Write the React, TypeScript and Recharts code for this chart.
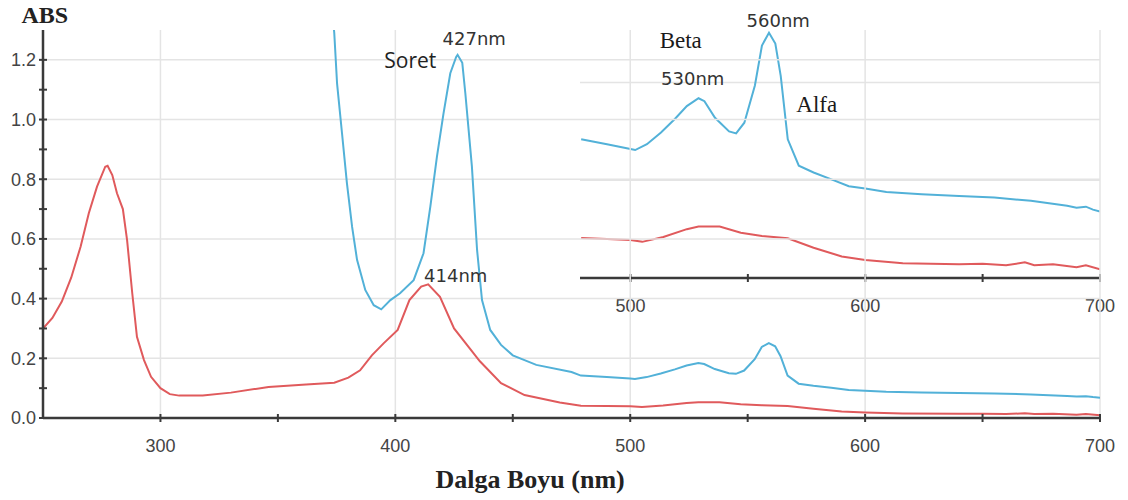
import React from 'react';
import { LineChart, Line, XAxis, YAxis, CartesianGrid, ReferenceDot } from 'recharts';

// wavelength (nm) / absorbance pairs
const redNm = [250, 254, 258, 262, 266, 269.5, 273, 276.5, 277.5, 279.5, 281.5, 284, 285.8, 288, 290, 293, 296, 300, 304, 308, 318, 330, 346, 362, 374, 380, 385, 390, 395, 401, 406, 411, 414, 419, 425, 436, 445, 455, 470, 479, 490, 500, 505, 514, 524, 529, 538, 547, 556, 567, 578, 590, 600, 616, 640, 650, 660, 668, 672, 680, 690, 694, 700];
const redAbs = [0.30, 0.335, 0.39, 0.47, 0.574, 0.686, 0.775, 0.842, 0.845, 0.814, 0.753, 0.70, 0.596, 0.418, 0.272, 0.194, 0.138, 0.10, 0.08, 0.075, 0.075, 0.085, 0.104, 0.112, 0.118, 0.135, 0.16, 0.21, 0.25, 0.295, 0.395, 0.44, 0.448, 0.406, 0.30, 0.19, 0.117, 0.077, 0.052, 0.041, 0.040, 0.039, 0.037, 0.042, 0.050, 0.0526, 0.0526, 0.0464, 0.043, 0.0406, 0.031, 0.022, 0.0184, 0.015, 0.014, 0.0145, 0.013, 0.016, 0.013, 0.014, 0.011, 0.013, 0.009];

const blueNm = [373.2, 374, 375.2, 377.3, 379.4, 381.6, 383.7, 387.2, 390.8, 394, 397.9, 402, 407.8, 412, 414.9, 417.7, 420.5, 423.4, 425.9, 426.5, 428.5, 429.8, 432.6, 434.8, 436.9, 440.4, 445, 450, 460, 475, 479, 490, 500, 502, 507, 513, 519, 524, 529, 531.5, 536, 542, 545, 548.5, 553, 556, 559, 561.7, 564, 567, 571.7, 578, 585.6, 593, 600, 609, 624, 640, 655, 670.6, 686, 690, 694, 697, 700];
const blueAbs = [1.36, 1.29, 1.12, 0.954, 0.786, 0.64, 0.53, 0.429, 0.378, 0.364, 0.395, 0.418, 0.462, 0.552, 0.708, 0.875, 1.02, 1.155, 1.21, 1.217, 1.19, 1.088, 0.842, 0.563, 0.395, 0.295, 0.245, 0.21, 0.178, 0.154, 0.142, 0.137, 0.132, 0.131, 0.137, 0.149, 0.163, 0.176, 0.184, 0.181, 0.164, 0.150, 0.148, 0.159, 0.197, 0.238, 0.251, 0.240, 0.207, 0.142, 0.115, 0.108, 0.101, 0.094, 0.0915, 0.088, 0.0857, 0.084, 0.0823, 0.079, 0.074, 0.072, 0.073, 0.070, 0.068];

const mainXTicks = [300, 350, 400, 450, 500, 550, 600, 650, 700];
const mainYTicks = [0, 0.1, 0.2, 0.3, 0.4, 0.5, 0.6, 0.7, 0.8, 0.9, 1.0, 1.1, 1.2];
const insetXTicks = [500, 550, 600, 650, 700];

// annotation text with the data position of its anchor point
const notes = [
  { text: 'Soret', nm: 406.4, abs: 1.1725, kind: 'sans' },
  { text: '427nm', nm: 433.6, abs: 1.2496, kind: 'nm' },
  { text: '414nm', nm: 425.7, abs: 0.4566, kind: 'nm' },
  { text: 'Beta', nm: 521.5, abs: 1.2395, kind: 'serif' },
  { text: '560nm', nm: 563, abs: 1.31, kind: 'nm' },
  { text: '530nm', nm: 526.6, abs: 1.1156, kind: 'nm' },
  { text: 'Alfa', nm: 579.4, abs: 1.0251, kind: 'serif' },
];

const red = redNm.map((nm, i) => ({ nm, abs: redAbs[i] }));
const blue = blueNm.map((nm, i) => ({ nm, abs: blueAbs[i] }));
const insetRed = red.filter(d => d.nm >= 478.5);
const insetBlue = blue.filter(d => d.nm >= 478.5);

const AXIS = '#3a3a3a';
const RED = '#e05a5c';
const BLUE = '#52b1d8';
const GRID = '#e4e4e4';
const TICK_FONT = '"Liberation Sans", Arial, sans-serif';

const XTick = (props: any) => {
  const { x, y, payload } = props;
  const v = payload.value;
  return (
    <g>
      <line x1={x} x2={x} y1={y - 4} y2={y + 4} stroke={AXIS} strokeWidth={2} />
      {v % 100 === 0 && (
        <text x={x} y={y + 34} textAnchor="middle" fontSize={18} fill="#444" fontFamily={TICK_FONT}>{v}</text>
      )}
    </g>
  );
};

const YTick = (props: any) => {
  const { x, y, payload } = props;
  const v = payload.value;
  const labeled = Math.round(v * 10) % 2 === 0;
  return (
    <g>
      <line x1={x - 4} x2={x + 4} y1={y} y2={y} stroke={AXIS} strokeWidth={2} />
      {labeled && (
        <text x={x - 7} y={y} dy="0.36em" textAnchor="end" fontSize={18} fill="#444" fontFamily={TICK_FONT}>{v.toFixed(1)}</text>
      )}
    </g>
  );
};

const noteStyle = (kind: string) => {
  if (kind === 'serif') return { fontFamily: '"Liberation Serif", serif', fontSize: 23, fill: '#1a1a1a' };
  if (kind === 'sans') return { fontFamily: '"Open Sans", sans-serif', fontSize: 21, fill: '#222' };
  return { fontFamily: '"DejaVu Sans", sans-serif', fontSize: 18, fill: '#333' };
};

const App: React.FC = () => {
  return (
    <div style={{ position: 'absolute', left: 0, top: 0, width: 1128, height: 500, background: '#fff' }}>
      {/* magnified inset of the 480-700 nm region, drawn underneath so the labels sit on top */}
      <div style={{ position: 'absolute', left: 580, top: 24 }}>
        <LineChart width={548} height={294} margin={{ top: 0, right: 28, left: 0, bottom: 0 }}>
          <CartesianGrid stroke={GRID} strokeWidth={1.5} vertical={false} horizontalValues={[0.1, 0.2]} />
          <XAxis
            type="number"
            dataKey="nm"
            domain={[478.5, 700]}
            ticks={insetXTicks}
            allowDataOverflow
            height={40}
            tickSize={0}
            tickMargin={0}
            tick={<XTick />}
            axisLine={{ stroke: AXIS, strokeWidth: 2.5 }}
          />
          <YAxis type="number" dataKey="abs" domain={[0, 0.26]} allowDataOverflow hide />
          <Line data={insetRed} dataKey="abs" type="linear" stroke={RED} strokeWidth={2} dot={false} isAnimationActive={false} />
          <Line data={insetBlue} dataKey="abs" type="linear" stroke={BLUE} strokeWidth={2} dot={false} isAnimationActive={false} />
        </LineChart>
      </div>

      <div style={{ position: 'absolute', left: 0, top: 0 }}>
        <LineChart width={1128} height={500} margin={{ top: 30, right: 28, left: 0, bottom: 0 }}>
          <CartesianGrid stroke={GRID} strokeWidth={1.5} horizontalValues={[0.2, 0.4, 0.6, 0.8, 1.0, 1.2]} verticalValues={[300, 400, 500, 600, 700]} />
          <XAxis
            type="number"
            dataKey="nm"
            domain={[250, 700]}
            ticks={mainXTicks}
            allowDataOverflow
            height={82}
            tickSize={0}
            tickMargin={0}
            tick={<XTick />}
            axisLine={{ stroke: AXIS, strokeWidth: 2.5 }}
          />
          <YAxis
            type="number"
            dataKey="abs"
            domain={[0, 1.3]}
            ticks={mainYTicks}
            allowDataOverflow
            width={43}
            tickSize={0}
            tickMargin={0}
            tick={<YTick />}
            axisLine={{ stroke: AXIS, strokeWidth: 2.5 }}
          />
          <Line data={red} dataKey="abs" type="linear" stroke={RED} strokeWidth={2} dot={false} isAnimationActive={false} />
          <Line data={blue} dataKey="abs" type="linear" stroke={BLUE} strokeWidth={2} dot={false} isAnimationActive={false} />
          {notes.map(n => (
            <ReferenceDot
              key={n.text}
              x={n.nm}
              y={n.abs}
              ifOverflow="visible"
              shape={(p: any) => (
                <text x={p.cx} y={p.cy} textAnchor="middle" {...noteStyle(n.kind)}>{n.text}</text>
              )}
            />
          ))}
          <ReferenceDot
            x={240.85}
            y={1.3233}
            ifOverflow="visible"
            shape={(p: any) => (
              <text x={p.cx} y={p.cy} fontFamily='"Liberation Serif", serif' fontWeight="bold" fontSize={24} fill="#222">ABS</text>
            )}
          />
          <ReferenceDot
            x={457.4}
            y={-0.2345}
            ifOverflow="visible"
            shape={(p: any) => (
              <text x={p.cx} y={p.cy} textAnchor="middle" fontFamily='"Liberation Serif", serif' fontWeight="bold" fontSize={26} fill="#222">Dalga Boyu (nm)</text>
            )}
          />
        </LineChart>
      </div>
    </div>
  );
};

export default App;
